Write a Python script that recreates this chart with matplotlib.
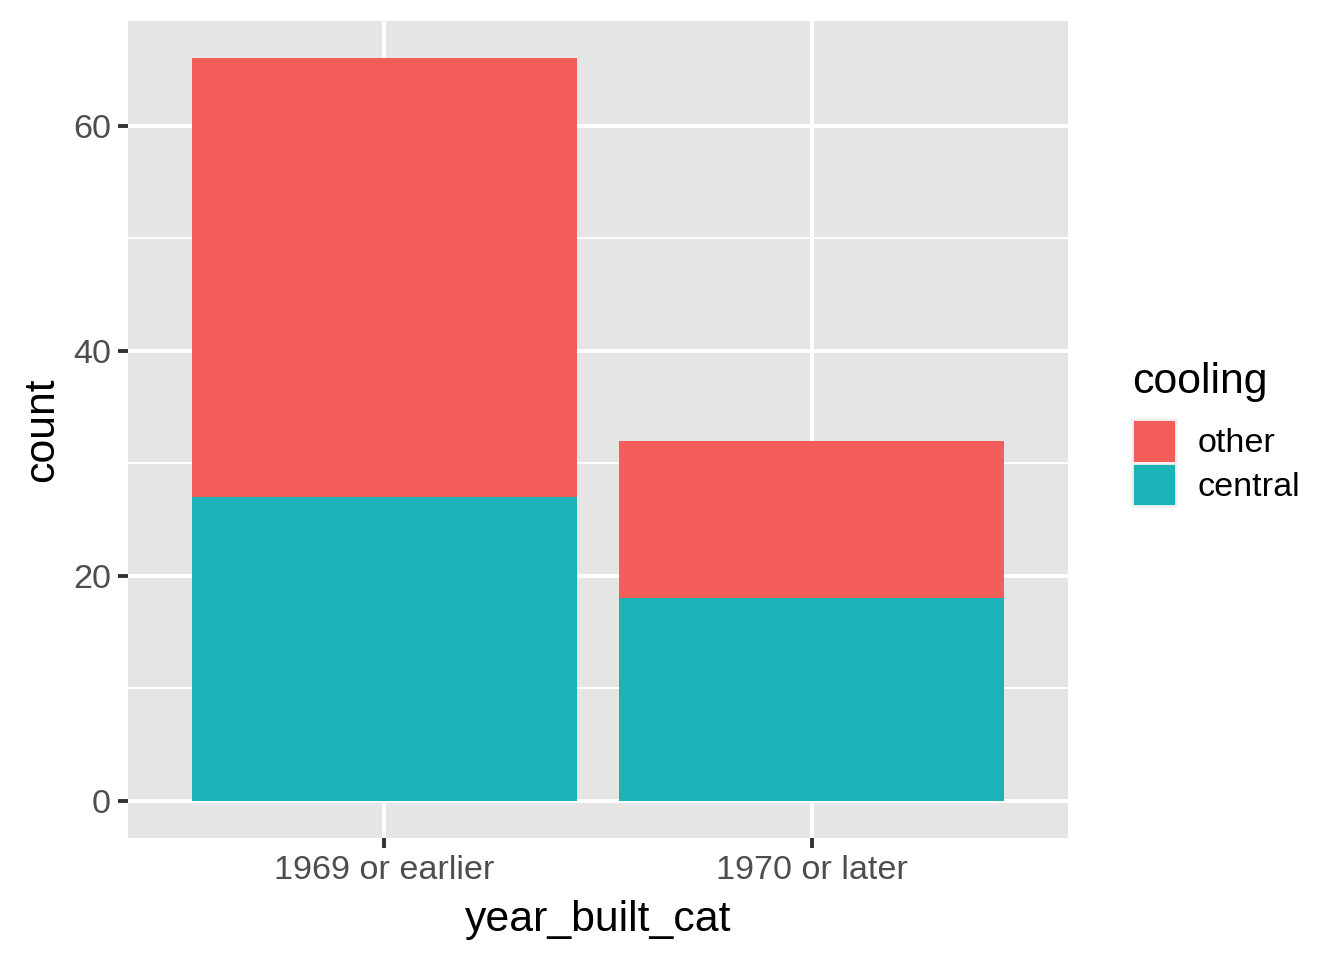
import numpy as np
import matplotlib.pyplot as plt
from matplotlib.patches import Patch

plt.rcParams['font.family'] = ['Liberation Sans', 'DejaVu Sans']

categories = ['1969 or earlier', '1970 or later']
central = [27, 18]
other = [39, 14]
colors = {'other': '#F35E5A', 'central': '#19B3B8'}

fig = plt.figure(figsize=(6.72, 4.8), dpi=200)
ax = fig.add_axes([128 / 1344, 1 - 838 / 960, 940 / 1344, 817 / 960])
ax.set_facecolor('#E5E5E5')

x = np.arange(len(categories))
ax.bar(x, central, width=0.9, color=colors['central'], zorder=3)
ax.bar(x, other, width=0.9, bottom=central, color=colors['other'], zorder=3)

total = max(c + o for c, o in zip(central, other))
ax.set_ylim(-0.05 * total, 1.05 * total)
ax.set_xlim(-0.6, 1.6)

ax.set_yticks([0, 20, 40, 60])
ax.set_yticks([10, 30, 50], minor=True)
ax.set_xticks(x)
ax.set_xticklabels(categories)
ax.grid(which='major', color='white', linewidth=1.4, zorder=0)
ax.grid(which='minor', axis='y', color='white', linewidth=0.7, zorder=0)
ax.set_axisbelow(True)
for s in ax.spines.values():
    s.set_visible(False)
ax.tick_params(which='major', length=3.6, width=1.4, color='#333333',
               labelsize=12.3, labelcolor='#4D4D4D', pad=2.5)
ax.tick_params(which='minor', length=0)

ax.set_xlabel('year_built_cat', fontsize=15.4, labelpad=5)
ax.set_ylabel('count', fontsize=15.4, labelpad=4)

# legend keys: ggplot style squares, no frame
handles = [Patch(facecolor=colors['other'], edgecolor='#F2F2F2', linewidth=1.0),
           Patch(facecolor=colors['central'], edgecolor='#F2F2F2', linewidth=1.0)]
leg = fig.legend(handles, ['other', 'central'], title='cooling',
                 loc='upper left', bbox_to_anchor=(1132 / 1344, 1 - 362 / 960),
                 frameon=False, fontsize=12.3, title_fontsize=15.4,
                 handlelength=1.29, handleheight=1.6, labelspacing=0.0,
                 handletextpad=0.64, borderaxespad=0, borderpad=0)
leg._legend_box.align = 'left'
leg._legend_box.sep = 6

fig.savefig('out.png', dpi=200)
